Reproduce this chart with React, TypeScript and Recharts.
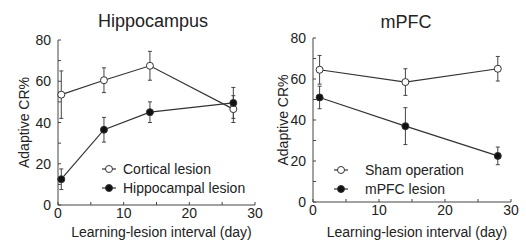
import React from 'react';
import { LineChart, Line, XAxis, YAxis, ErrorBar, Legend } from 'recharts';

// axis ticks (minor ticks carry no label)
const xTicks = [0, 5, 10, 15, 20, 25, 30];
const yTicks = [0, 10, 20, 30, 40, 50, 60, 70, 80];
const xLabelTicks = [0, 10, 20, 30];
const yLabelTicks = [0, 20, 40, 60, 80];

// Hippocampus panel
const corticalDays = [0.5, 7, 14, 26.7];
const corticalCR = [53.5, 60.5, 67.5, 46.5];
const corticalErr = [11.5, 6, 7, 6.5];

const hippocampalDays = [0.5, 7, 14, 26.7];
const hippocampalCR = [12.5, 36.5, 45, 49.5];
const hippocampalErr = [5, 6, 5, 7.5];

// mPFC panel
const shamDays = [1, 14, 28];
const shamCR = [64.5, 58.5, 65];
const shamErr = [7, 6.5, 6];

const mpfcDays = [1, 14, 28];
const mpfcCR = [51, 37, 22.5];
const mpfcErr = [5.5, 9, 4.3];

const FONT = '"Liberation Sans", Arial, sans-serif';
const AXIS = '#444';
const TEXT = '#222';
const LINE = '#333';

const toPoints = (days: number[], cr: number[], err: number[]) =>
  days.map((d, i) => ({ x: d, y: cr[i], err: err[i] }));

const XTick = (props: any) => {
  const { x, y, payload } = props;
  const v = payload.value;
  return (
    <g>
      <line x1={x} y1={y} x2={x} y2={y - 3} stroke={AXIS} />
      {xLabelTicks.includes(v) && (
        <text x={x} y={y + 13} textAnchor="middle" fontSize={14} fill={TEXT} fontFamily={FONT}>
          {v}
        </text>
      )}
    </g>
  );
};

const YTick = (props: any) => {
  const { x, y, payload } = props;
  const v = payload.value;
  return (
    <g>
      <line x1={x} y1={y} x2={x + 3} y2={y} stroke={AXIS} />
      {yLabelTicks.includes(v) && (
        <text x={x - 7} y={y + 5} textAnchor="end" fontSize={14} fill={TEXT} fontFamily={FONT}>
          {v}
        </text>
      )}
    </g>
  );
};

const legendContent = (gap: number) => (props: any) => (
  <div style={{ fontFamily: FONT, fontSize: 14, color: TEXT }}>
    {props.payload.map((entry: any) => (
      <div key={entry.value} style={{ display: 'flex', alignItems: 'center', height: 19 }}>
        <svg width={20} height={10}>
          <line x1={2} y1={5} x2={16} y2={5} stroke={LINE} strokeWidth={1.2} />
          <circle cx={9} cy={5} r={3.5} fill={entry.payload.dot.fill} stroke={LINE} />
        </svg>
        <span style={{ marginLeft: gap, whiteSpace: 'nowrap' }}>{entry.value}</span>
      </div>
    ))}
  </div>
);

interface Series {
  name: string;
  filled: boolean;
  points: { x: number; y: number; err: number }[];
}

interface PanelProps {
  title: string;
  series: Series[];
  left: number;
  yAxisWidth: number;
  yLabelOffset: number;
  yLabelShift: number;
  margin: { top: number; right: number; left: number; bottom: number };
  xAxisHeight: number;
  titleX: number;
  titleY: number;
  legendPos: { left: number; top: number };
  legendGap: number;
}

const Panel = (p: PanelProps) => (
  <div style={{ position: 'absolute', left: p.left, top: 0, width: 263, height: 250 }}>
    <div
      style={{
        position: 'absolute',
        left: p.titleX - 80,
        width: 160,
        top: p.titleY - 11,
        textAlign: 'center',
        fontFamily: FONT,
        fontSize: 18,
        color: TEXT,
        lineHeight: '22px',
      }}
    >
      {p.title}
    </div>
    <LineChart width={263} height={250} margin={p.margin} style={{ overflow: 'visible' }}>
      <XAxis
        type="number"
        dataKey="x"
        domain={[0, 30]}
        ticks={xTicks}
        interval={0}
        tickSize={0}
        tickMargin={0}
        tickLine={false}
        tick={<XTick />}
        height={p.xAxisHeight}
        axisLine={{ stroke: AXIS }}
        label={{
          value: 'Learning-lesion interval (day)',
          position: 'insideBottom',
          offset: 13,
          dx: 5,
          style: { fontSize: 14, fill: TEXT, fontFamily: FONT },
        }}
      />
      <YAxis
        type="number"
        domain={[0, 80]}
        ticks={yTicks}
        interval={0}
        tickSize={0}
        tickMargin={0}
        tickLine={false}
        tick={<YTick />}
        width={p.yAxisWidth}
        axisLine={{ stroke: AXIS }}
        label={{
          value: 'Adaptive CR%',
          angle: -90,
          position: 'insideLeft',
          offset: p.yLabelOffset,
          dx: p.yLabelShift,
          style: { fontSize: 14, fill: TEXT, fontFamily: FONT, textAnchor: 'middle' },
        }}
      />
      <Legend
        layout="vertical"
        align="center"
        verticalAlign="middle"
        content={legendContent(p.legendGap)}
        wrapperStyle={{ left: p.legendPos.left, top: p.legendPos.top, width: 'auto' }}
      />
      {p.series.map((s) => (
        <Line
          key={s.name}
          name={s.name}
          data={s.points}
          dataKey="y"
          stroke={LINE}
          strokeWidth={1.2}
          dot={{ r: 3.5, fill: s.filled ? '#111' : '#fff', stroke: LINE, strokeWidth: 1 }}
          isAnimationActive={false}
        >
          <ErrorBar dataKey="err" direction="y" width={2} stroke={AXIS} strokeWidth={1} />
        </Line>
      ))}
    </LineChart>
  </div>
);

export default function App() {
  return (
    <div style={{ position: 'absolute', left: 0, top: 0, width: 526, height: 250, background: '#fff' }}>
      <Panel
        title="Hippocampus"
        left={0}
        yAxisWidth={58}
        yLabelOffset={20}
        yLabelShift={4}
        margin={{ top: 40, right: 8, left: 0, bottom: 0 }}
        xAxisHeight={45}
        titleX={153}
        titleY={21}
        legendPos={{ left: 100, top: 159 }}
        legendGap={3}
        series={[
          { name: 'Cortical lesion', filled: false, points: toPoints(corticalDays, corticalCR, corticalErr) },
          { name: 'Hippocampal lesion', filled: true, points: toPoints(hippocampalDays, hippocampalCR, hippocampalErr) },
        ]}
      />
      <Panel
        title="mPFC"
        left={263}
        yAxisWidth={50}
        yLabelOffset={18}
        yLabelShift={2}
        margin={{ top: 38, right: 15, left: 0, bottom: 0 }}
        xAxisHeight={48}
        titleX={143}
        titleY={22}
        legendPos={{ left: 69, top: 160 }}
        legendGap={13}
        series={[
          { name: 'Sham operation', filled: false, points: toPoints(shamDays, shamCR, shamErr) },
          { name: 'mPFC lesion', filled: true, points: toPoints(mpfcDays, mpfcCR, mpfcErr) },
        ]}
      />
    </div>
  );
}
